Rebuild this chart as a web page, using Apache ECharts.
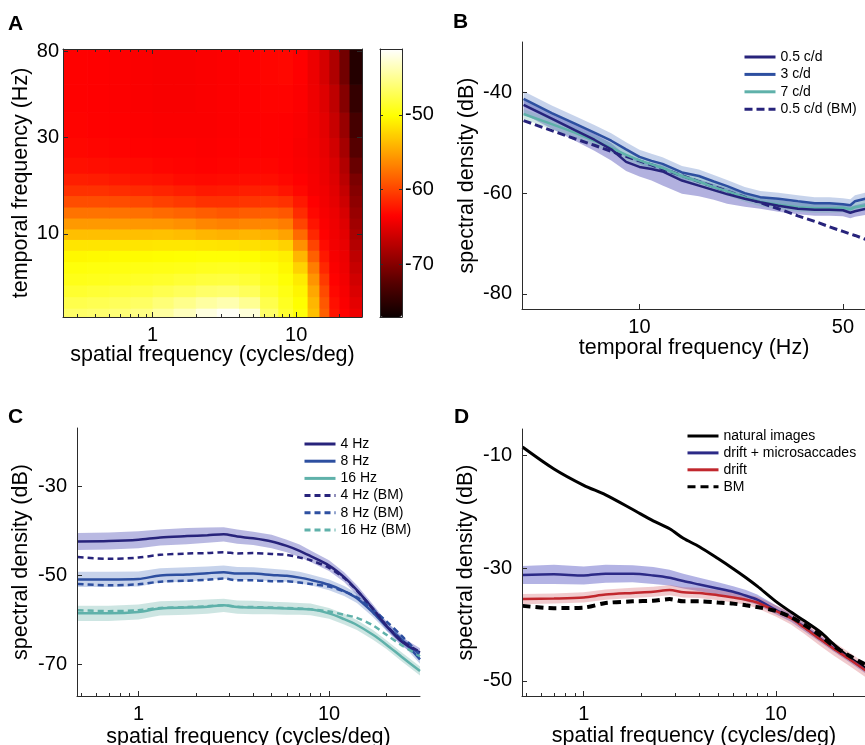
<!DOCTYPE html>
<html><head><meta charset="utf-8">
<script src="https://cdn.jsdelivr.net/npm/echarts@6/dist/echarts.min.js"></script>
<style>html,body{margin:0;padding:0;background:#fff}#c{width:865px;height:745px}</style>
</head><body><div id="c"></div>
<script>
// ---------- Panel A: spatio-temporal power (dB) ----------
const sfEdges = [0.238, 0.35, 0.5, 0.7, 1.0, 1.4, 2.0, 2.8, 4.0, 5.6, 7.5, 9.5, 12, 14.5, 17, 20, 23.5, 28.7];
const tfEdges = [3.88, 4.3, 4.9, 5.6, 6.4, 7.3, 8.3, 9.4, 10.6, 12, 13.6, 15.5, 17.5, 20, 24, 30, 40, 55, 82];
const psdA = [
  [-46.5,-46.3,-46.0,-45.5,-44.5,-43.5,-42.3,-41.5,-42.5,-46.5,-48.5,-49.8,-53.5,-58.5,-62.5,-63.5,-64.5],
  [-47.5,-47.3,-47.0,-46.7,-46.0,-45.3,-44.5,-44.0,-45.0,-47.5,-49.0,-50.2,-54.0,-59.0,-62.8,-63.8,-65.0],
  [-48.5,-48.3,-48.0,-47.8,-47.4,-47.0,-46.5,-46.3,-47.0,-48.5,-49.5,-50.6,-54.8,-59.7,-63.2,-64.0,-65.5],
  [-49.3,-49.2,-49.0,-48.8,-48.6,-48.3,-48.0,-47.9,-48.3,-49.2,-50.0,-51.2,-55.8,-60.5,-63.5,-64.2,-66.0],
  [-49.8,-49.7,-49.6,-49.5,-49.4,-49.3,-49.1,-49.0,-49.2,-49.7,-50.5,-52.5,-57.0,-61.5,-63.8,-64.4,-66.5],
  [-50.5,-50.4,-50.3,-50.3,-50.2,-50.1,-50.0,-50.0,-50.2,-50.6,-51.0,-54.0,-58.5,-62.3,-64.0,-64.5,-67.0],
  [-51.5,-51.5,-51.5,-51.5,-51.4,-51.4,-51.5,-51.6,-51.8,-52.0,-52.5,-56.0,-60.0,-63.0,-64.2,-64.7,-67.5],
  [-53.5,-53.5,-53.5,-53.5,-53.4,-53.6,-54.0,-54.2,-54.0,-54.3,-55.0,-58.0,-61.5,-63.5,-64.3,-65.0,-68.0],
  [-55.5,-55.5,-55.5,-55.6,-55.7,-56.0,-56.5,-56.8,-56.5,-56.5,-57.0,-60.0,-62.5,-63.8,-64.4,-65.3,-68.5],
  [-57.5,-57.5,-57.5,-57.7,-58.0,-58.3,-58.7,-59.0,-58.7,-58.6,-59.0,-61.3,-63.2,-64.0,-64.6,-65.7,-69.0],
  [-59.5,-59.5,-59.6,-59.8,-60.2,-60.6,-61.0,-61.0,-60.8,-60.7,-61.0,-62.3,-63.6,-64.2,-64.9,-66.2,-69.5],
  [-61.0,-61.0,-61.2,-61.4,-61.7,-62.0,-62.3,-62.2,-62.0,-62.0,-62.5,-63.2,-64.0,-64.3,-65.1,-66.7,-70.0],
  [-62.0,-62.1,-62.3,-62.5,-62.7,-63.0,-63.1,-63.0,-62.9,-62.9,-63.2,-63.6,-64.0,-64.5,-65.3,-67.2,-70.5],
  [-62.8,-62.9,-63.0,-63.1,-63.3,-63.4,-63.5,-63.4,-63.3,-63.3,-63.5,-63.8,-64.1,-64.6,-65.5,-67.7,-71.5],
  [-63.2,-63.3,-63.4,-63.5,-63.6,-63.6,-63.7,-63.6,-63.5,-63.5,-63.6,-63.9,-64.2,-64.8,-66.0,-68.3,-72.5],
  [-63.4,-63.5,-63.6,-63.7,-63.8,-63.8,-63.8,-63.7,-63.6,-63.5,-63.6,-63.8,-64.3,-65.0,-66.5,-69.0,-73.5],
  [-63.5,-63.6,-63.7,-63.8,-63.9,-63.9,-63.8,-63.7,-63.6,-63.4,-63.4,-63.7,-64.4,-65.3,-67.0,-70.0,-74.5],
  [-63.5,-63.6,-63.7,-63.8,-63.9,-63.9,-63.8,-63.7,-63.5,-63.3,-63.2,-63.6,-64.5,-65.8,-67.8,-71.0,-75.5]
];
const aXTicks = [1, 10];
const aXMinor = [0.3, 0.4, 0.5, 0.6, 0.7, 0.8, 0.9, 2, 3, 4, 5, 6, 7, 8, 9, 20];
const aYTicks = [10, 30, 80];
const cbTicks = [-50, -60, -70];
const hotColors = ['#0b0000','#550000','#aa0000','#ff0000','#ff5500','#ffaa00','#ffff00','#ffff80','#ffffff'];

// ---------- Panel B: spectral density vs temporal frequency ----------
const tfB = [4, 5, 6, 7, 8, 9, 10, 11, 12, 14, 16, 18, 20, 23, 26, 30, 35, 40, 45, 50, 53, 55, 60];
const sd05 = [-42.5,-45.2,-47.5,-49.4,-51.3,-53.8,-54.8,-55.2,-55.7,-57.5,-58.5,-59.4,-60.2,-61.1,-61.8,-62.5,-63.1,-63.3,-63.3,-63.4,-63.9,-63.6,-63.1];
const sd3  = [-41.3,-44.1,-46.2,-48.0,-49.6,-51.3,-52.8,-53.6,-54.2,-55.9,-56.6,-57.7,-58.6,-60.0,-60.8,-61.1,-61.6,-62.0,-62.0,-62.2,-62.4,-61.6,-61.1];
const sd7  = [-44.3,-46.3,-48.0,-49.6,-51.0,-52.4,-53.5,-54.3,-55.0,-56.6,-57.7,-58.8,-59.6,-60.8,-61.7,-62.3,-62.8,-63.0,-63.0,-62.9,-63.2,-62.8,-62.4];
const sdBM05 = [-45.6,-47.6,-49.2,-50.5,-51.7,-52.7,-53.6,-54.4,-55.2,-56.5,-57.7,-58.7,-59.6,-60.8,-61.9,-63.1,-64.5,-65.6,-66.7,-67.6,-68.1,-68.4,-69.2];
const b05Down = [1.8,2.0,2.1,2.2,2.2,1.8,1.9,2.3,2.8,2.6,2.1,1.9,1.9,1.6,1.3,1.2,1.1,1.2,1.2,1.2,1.1,1.1,1.2];
const b05Up   = [1.2,1.2,1.2,1.2,1.2,1.2,1.2,1.2,1.2,1.2,1.2,1.2,1.2,1.2,1.2,1.2,1.2,1.2,1.2,1.2,1.2,1.2,1.2];
const b3W = [1.5,1.5,1.5,1.5,1.5,1.4,1.4,1.4,1.3,1.3,1.3,1.3,1.2,1.2,1.2,1.2,1.2,1.2,1.2,1.2,1.2,1.2,1.2];
const b7W = [1.0,1.0,1.0,1.0,1.0,1.0,1.0,0.9,0.9,0.9,0.9,0.9,0.9,0.9,0.9,0.9,0.9,0.9,0.9,0.9,0.9,0.9,0.9];
const bXTicks = [10, 50];
const bYTicks = [-40, -60, -80];

// ---------- Panel C: spectral density vs spatial frequency ----------
const sfC = [0.48, 0.7, 1.0, 1.3, 1.8, 2.3, 2.8, 3.3, 4, 5, 6, 7, 8, 10, 12, 14, 17, 20, 24, 30];
const c4    = [-42.4,-42.3,-42.0,-41.5,-41.2,-41.0,-40.8,-41.3,-41.7,-42.4,-43.4,-44.5,-45.7,-47.8,-50.4,-53.3,-57.5,-61.3,-64.8,-67.3];
const c8    = [-50.9,-50.9,-50.8,-50.0,-49.8,-49.5,-49.3,-49.6,-49.6,-49.9,-50.1,-50.5,-51.0,-52.1,-53.5,-55.1,-58.3,-61.4,-64.3,-68.8];
const c16   = [-58.5,-58.5,-58.2,-57.4,-57.2,-57.0,-56.7,-57.1,-57.2,-57.3,-57.4,-57.5,-57.6,-58.5,-59.8,-61.1,-63.3,-65.5,-68.2,-71.4];
const c4bm  = [-45.9,-46.3,-46.0,-45.4,-45.1,-45.0,-44.8,-45.1,-45.0,-45.2,-45.4,-46.0,-46.6,-48.3,-50.6,-53.4,-57.5,-61.2,-64.6,-67.1];
const c8bm  = [-51.9,-52.2,-52.0,-51.4,-51.2,-51.0,-50.7,-51.1,-51.1,-51.3,-51.3,-51.6,-51.9,-52.5,-53.6,-54.9,-57.6,-60.3,-63.5,-67.8];
const c16bm = [-57.8,-58.0,-57.8,-57.3,-57.1,-56.9,-56.7,-57.0,-57.1,-57.2,-57.3,-57.4,-57.6,-58.1,-58.8,-59.5,-61.2,-63.3,-65.6,-68.1];
const c4W  = [1.9,1.9,1.9,1.8,1.8,1.7,1.6,1.6,1.5,1.5,1.4,1.4,1.3,1.2,1.1,1.1,1.0,1.0,1.0,1.0];
const c8W  = [1.7,1.7,1.7,1.6,1.6,1.5,1.5,1.5,1.4,1.4,1.3,1.3,1.2,1.2,1.1,1.1,1.0,1.0,1.0,1.0];
const c16W = [1.7,1.7,1.7,1.6,1.6,1.6,1.5,1.5,1.5,1.4,1.4,1.3,1.3,1.2,1.2,1.1,1.1,1.0,1.0,1.0];
const cXTicks = [1, 10];
const cXMinor = [0.5, 0.6, 0.7, 0.8, 0.9, 2, 3, 4, 5, 6, 7, 8, 9, 20];
const cYTicks = [-30, -50, -70];

// ---------- Panel D ----------
const sfD = [0.48, 0.7, 1.0, 1.3, 1.8, 2.3, 2.8, 3.3, 4, 5, 6, 7, 8, 10, 12, 14, 17, 20, 24, 30];
const natural = [-8.5,-12.4,-15.3,-17.0,-19.6,-21.6,-23.0,-24.7,-26.2,-28.3,-30.1,-31.7,-33.2,-35.9,-37.8,-39.3,-41.3,-43.5,-45.8,-48.0];
const driftMS = [-31.2,-31.1,-31.3,-31.0,-31.0,-31.3,-31.7,-32.3,-32.9,-33.6,-34.2,-34.9,-35.6,-37.4,-38.8,-40.4,-42.5,-44.2,-46.0,-48.3];
const drift   = [-35.5,-35.4,-35.2,-34.7,-34.4,-34.2,-33.9,-34.3,-34.4,-34.8,-35.2,-35.6,-36.1,-37.6,-38.9,-40.5,-42.6,-44.3,-46.1,-48.4];
const bmD     = [-36.7,-37.1,-37.0,-36.2,-35.9,-35.8,-35.5,-35.9,-35.9,-36.1,-36.3,-36.6,-36.9,-37.6,-38.7,-40.0,-41.9,-43.8,-45.5,-47.3];
const driftMSW = [1.6,1.7,1.6,1.6,1.5,1.5,1.4,1.3,1.2,1.1,1.0,1.0,0.9,0.8,0.7,0.7,0.6,0.6,0.6,0.6];
const driftW   = [0.9,0.9,0.9,0.9,0.9,0.9,0.9,0.9,0.9,0.9,0.9,0.9,1.0,1.0,1.1,1.1,1.2,1.2,1.2,1.2];
const dXTicks = [1, 10];
const dYTicks = [-10, -30, -50];

// ---------- build ----------
const FONT = "'Liberation Sans', Arial, Helvetica, sans-serif";
const AX = '#2b2b2b';
const NAVY = '#27237b', BLUE = '#2d4fa0', TEAL = '#5fb1aa';

const heatData = [];
for (let j = 0; j < tfEdges.length - 1; j++) {
  for (let i = 0; i < sfEdges.length - 1; i++) {
    heatData.push([sfEdges[i], sfEdges[i + 1], tfEdges[j], tfEdges[j + 1], psdA[j][i]]);
  }
}

function lineS(name, xs, ys, xi, yi, color, width, dash, smooth) {
  return {
    type: 'line', name: name, xAxisIndex: xi, yAxisIndex: yi,
    data: xs.map((x, k) => [x, ys[k]]),
    symbol: 'none', showSymbol: false, smooth: smooth || false,
    lineStyle: { color: color, width: width, type: dash || 'solid', cap: 'butt' },
    itemStyle: { color: color }, z: 3, silent: true, animation: false
  };
}
// confidence band: one polygon drawn through the axes' scales (api.coord)
function bandS(id, xs, center, down, up, xi, yi, color) {
  return {
    type: 'custom', name: id, xAxisIndex: xi, yAxisIndex: yi,
    data: xs.map((x, k) => [x, center[k] - down[k], center[k] + up[k]]),
    encode: { x: 0, y: [1, 2] }, clip: true, silent: true, animation: false, z: 2,
    renderItem: function (params, api) {
      if (params.dataIndex !== 0) return null;
      const upper = [], lower = [];
      for (let k = 0; k < xs.length; k++) {
        upper.push(api.coord([xs[k], center[k] + up[k]]));
        lower.push(api.coord([xs[k], center[k] - down[k]]));
      }
      return { type: 'polygon', shape: { points: upper.concat(lower.reverse()) },
        style: { fill: color, stroke: null } };
    }
  };
}

const labelStyle = { fontSize: 20, color: '#000', fontFamily: FONT };
const nameStyle = { fontSize: 21.5, color: '#000', fontFamily: FONT };

function logX(grid, min, max, pos, ticks, tickLen, labels, name, nameGap, lineShow) {
  return {
    gridIndex: grid, type: 'log', logBase: 10, min: min, max: max, position: pos, z: 10,
    axisLine: { show: lineShow, onZero: false, lineStyle: { color: AX, width: 1 } },
    axisTick: { show: true, inside: true, length: tickLen, customValues: ticks, lineStyle: { color: AX, width: 1 } },
    axisLabel: labels ? Object.assign({ show: true, customValues: labels, margin: 8, formatter: v => String(v) }, labelStyle) : { show: false },
    splitLine: { show: false }, minorTick: { show: false },
    name: name || '', nameLocation: 'middle', nameGap: nameGap || 0, nameTextStyle: nameStyle, nameMoveOverlap: false
  };
}
function valY(grid, type, min, max, pos, ticks, tickLen, labels, name, nameGap, margin) {
  return {
    gridIndex: grid, type: type, min: min, max: max, position: pos, z: 10,
    axisLine: { show: true, onZero: false, lineStyle: { color: AX, width: 1 } },
    axisTick: { show: true, inside: true, length: tickLen, customValues: ticks, lineStyle: { color: AX, width: 1 } },
    axisLabel: labels ? Object.assign({ show: true, customValues: labels, margin: margin, formatter: v => String(v) }, labelStyle) : { show: false },
    splitLine: { show: false }, minorTick: { show: false },
    name: name || '', nameLocation: 'middle', nameGap: nameGap || 0, nameTextStyle: nameStyle, nameMoveOverlap: false
  };
}
function hiddenY(grid) { return { gridIndex: grid, type: 'value', min: 0, max: 1, show: false }; }
function plainX(grid, pos) {
  return { gridIndex: grid, type: 'value', min: 0, max: 1, position: pos, z: 10,
    axisLine: { show: true, onZero: false, lineStyle: { color: AX, width: 1 } },
    axisTick: { show: false }, axisLabel: { show: false }, splitLine: { show: false } };
}

const grids = [
  { left: 63, top: 49, width: 299, height: 268 },      // 0 A
  { left: 63, top: 49, width: 299, height: 268 },      // 1 A minor
  { left: 380, top: 49, width: 22, height: 268 },      // 2 colorbar
  { left: 522, top: 42, width: 344, height: 267 },     // 3 B
  { left: 77, top: 428, width: 343, height: 268 },     // 4 C
  { left: 77, top: 428, width: 343, height: 268 },     // 5 C minor
  { left: 522, top: 429, width: 344, height: 267 },    // 6 D
  { left: 522, top: 429, width: 344, height: 267 }     // 7 D minor
].map(g => Object.assign({ containLabel: false, outerBoundsMode: 'none', show: false }, g));

const xAxes = [
  logX(0, 0.238, 28.7, 'bottom', aXTicks, 5, aXTicks, 'spatial frequency (cycles/deg)', 27, true), // 0
  logX(0, 0.238, 28.7, 'top', aXTicks, 5, null, '', 0, true),                                       // 1
  logX(1, 0.238, 28.7, 'bottom', aXMinor, 3, null, '', 0, false),                                   // 2
  logX(1, 0.238, 28.7, 'top', aXMinor, 3, null, '', 0, false),                                      // 3
  plainX(2, 'bottom'),                                                                              // 4
  plainX(2, 'top'),                                                                                 // 5
  logX(3, 3.95, 60, 'bottom', bXTicks, 5, bXTicks, 'temporal frequency (Hz)', 28, true),            // 6
  logX(4, 0.476, 30, 'bottom', cXTicks, 5, cXTicks, 'spatial frequency (cycles/deg)', 30, true),    // 7
  logX(5, 0.476, 30, 'bottom', cXMinor, 3, null, '', 0, false),                                     // 8
  logX(6, 0.477, 29.5, 'bottom', dXTicks, 5, dXTicks, 'spatial frequency (cycles/deg)', 29, true),  // 9
  logX(7, 0.477, 29.5, 'bottom', cXMinor, 3, null, '', 0, false)                                    // 10
];
const yAxes = [
  valY(0, 'log', 3.88, 82, 'left', aYTicks, 5, aYTicks, 'temporal frequency (Hz)', 31, 4),          // 0
  valY(0, 'log', 3.88, 82, 'right', aYTicks, 5, null, '', 0, 0),                                    // 1
  hiddenY(1),                                                                                       // 2
  valY(2, 'value', -77, -41.2, 'left', cbTicks, 3, null, '', 0, 0),                                 // 3
  valY(2, 'value', -77, -41.2, 'right', cbTicks, 3, cbTicks, '', 0, 3),                             // 4
  valY(3, 'value', -83, -30, 'left', bYTicks, 5, bYTicks, 'spectral density (dB)', 44, 10),         // 5
  valY(4, 'value', -77, -17, 'left', cYTicks, 5, cYTicks, 'spectral density (dB)', 45, 10),         // 6
  hiddenY(5),                                                                                       // 7
  valY(6, 'value', -52.7, -5.3, 'left', dYTicks, 5, dYTicks, 'spectral density (dB)', 45, 10),      // 8
  hiddenY(7)                                                                                        // 9
];

const series = [];
series.push({
  type: 'custom', name: 'psd', xAxisIndex: 0, yAxisIndex: 0, data: heatData,
  encode: { x: [0, 1], y: [2, 3] }, clip: true, silent: true, animation: false, z: 1,
  renderItem: function (params, api) {
    const p0 = api.coord([api.value(0), api.value(3)]);
    const p1 = api.coord([api.value(1), api.value(2)]);
    return { type: 'rect', shape: { x: p0[0], y: p0[1], width: p1[0] - p0[0] + 0.7, height: p1[1] - p0[1] + 0.7 },
      style: { fill: api.visual('color') } };
  }
});
// B
series.push(bandS('b05', tfB, sd05, b05Down, b05Up, 6, 5, 'rgba(72,70,178,0.42)'));
series.push(bandS('b3', tfB, sd3, b3W, b3W, 6, 5, 'rgba(70,110,190,0.30)'));
series.push(bandS('b7', tfB, sd7, b7W, b7W, 6, 5, 'rgba(100,180,170,0.30)'));
series.push(lineS('0.5 c/d (BM)', tfB, sdBM05, 6, 5, NAVY, 3, [8, 4]));
series.push(lineS('7 c/d', tfB, sd7, 6, 5, TEAL, 2.5));
series.push(lineS('3 c/d', tfB, sd3, 6, 5, BLUE, 2.5));
series.push(lineS('0.5 c/d', tfB, sd05, 6, 5, NAVY, 2.5));
// C
series.push(bandS('c4b', sfC, c4, c4W, c4W, 7, 6, 'rgba(72,70,178,0.38)'));
series.push(bandS('c8b', sfC, c8, c8W, c8W, 7, 6, 'rgba(70,110,190,0.30)'));
series.push(bandS('c16b', sfC, c16, c16W, c16W, 7, 6, 'rgba(100,175,165,0.32)'));
series.push(lineS('16 Hz', sfC, c16, 7, 6, TEAL, 2.5, 'solid', 0.3));
series.push(lineS('8 Hz', sfC, c8, 7, 6, BLUE, 2.5, 'solid', 0.3));
series.push(lineS('4 Hz', sfC, c4, 7, 6, NAVY, 2.5, 'solid', 0.3));
series.push(lineS('16 Hz (BM)', sfC, c16bm, 7, 6, TEAL, 2.5, [6, 4], 0.3));
series.push(lineS('8 Hz (BM)', sfC, c8bm, 7, 6, BLUE, 2.5, [6, 4], 0.3));
series.push(lineS('4 Hz (BM)', sfC, c4bm, 7, 6, NAVY, 2.5, [6, 4], 0.3));
// D
series.push(bandS('dmsb', sfD, driftMS, driftMSW, driftMSW, 9, 8, 'rgba(75,75,190,0.42)'));
series.push(bandS('drb', sfD, drift, driftW, driftW, 9, 8, 'rgba(205,70,80,0.28)'));
series.push(lineS('natural images', sfD, natural, 9, 8, '#000000', 3, 'solid', 0.3));
series.push(lineS('drift + microsaccades', sfD, driftMS, 9, 8, '#2c2a87', 2.5, 'solid', 0.3));
series.push(lineS('drift', sfD, drift, 9, 8, '#c1272d', 2.5, 'solid', 0.3));
series.push(lineS('BM', sfD, bmD, 9, 8, '#000000', 4, [8, 5], 0.3));

function legendAt(names, left, top, gap) {
  return {
    data: names, orient: 'vertical', left: left, top: top, padding: 0,
    itemWidth: 31, itemHeight: 14, itemGap: gap, selectedMode: false,
    textStyle: { fontSize: 14, color: '#000', fontFamily: FONT, lineHeight: 14 },
    lineStyle: { width: 3 }, itemStyle: { opacity: 0, borderWidth: 0 }, inactiveColor: '#000'
  };
}
function letter(t, left, top) {
  return { text: t, left: left, top: top, padding: 0,
    textStyle: { fontSize: 21, fontWeight: 'bold', color: '#000', fontFamily: FONT } };
}

const option = {
  animation: false,
  backgroundColor: '#ffffff',
  title: [letter('A', 8, 14), letter('B', 453, 12), letter('C', 8, 407), letter('D', 454, 407)],
  grid: grids,
  xAxis: xAxes,
  yAxis: yAxes,
  visualMap: {
    type: 'continuous', min: -77, max: -41.2, dimension: 4, seriesIndex: 0,
    inRange: { color: hotColors }, calculable: false, show: true, hoverLink: false,
    left: 380, top: 49, itemWidth: 22, itemHeight: 268, padding: 0, text: null, z: 4
  },
  legend: [
    legendAt(['0.5 c/d', '3 c/d', '7 c/d', '0.5 c/d (BM)'], 743, 50, 3.4),
    legendAt(['4 Hz', '8 Hz', '16 Hz', '4 Hz (BM)', '8 Hz (BM)', '16 Hz (BM)'], 303, 437, 3.2),
    legendAt(['natural images', 'drift + microsaccades', 'drift', 'BM'], 686, 429, 2.9)
  ],
  series: series
};

const chart = echarts.init(document.getElementById('c'), null, { renderer: 'canvas', width: 865, height: 745 });
chart.setOption(option);
</script>
</body></html>
